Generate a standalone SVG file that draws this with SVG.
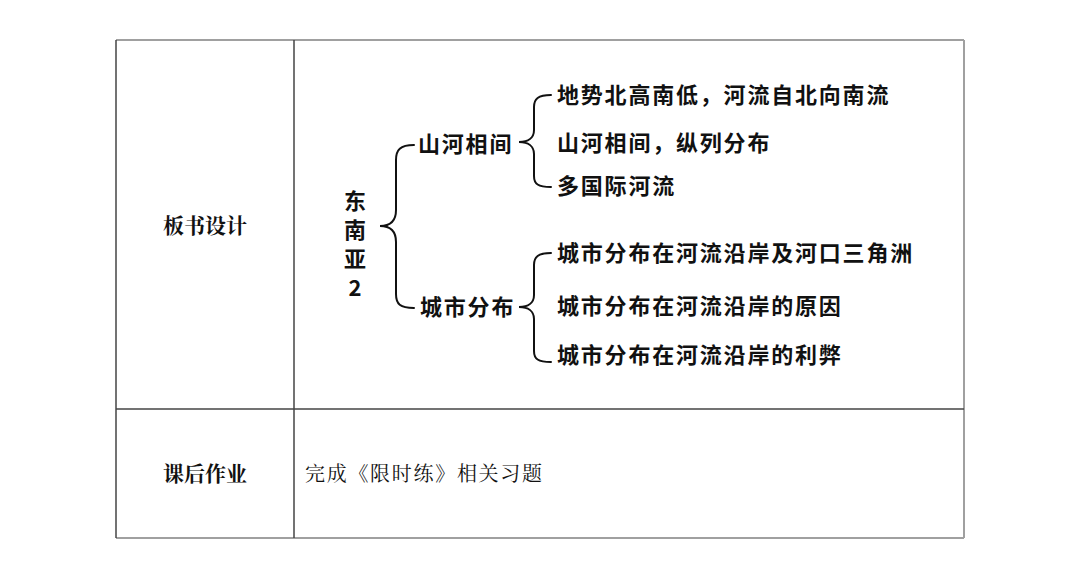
<svg xmlns="http://www.w3.org/2000/svg" width="1080" height="569" viewBox="0 0 1080 569">
<style>
.t{font-family:"Noto Sans CJK SC","Noto Sans",sans-serif;font-size:22px;font-weight:bold;fill:#111;letter-spacing:1.8px;dominant-baseline:central}
.v{font-family:"Noto Sans CJK SC","Noto Sans",sans-serif;font-size:22px;font-weight:bold;fill:#111;text-anchor:middle;dominant-baseline:central}
.s{font-family:"Noto Serif CJK SC","Noto Sans CJK SC",serif;font-size:20px;fill:#111;dominant-baseline:central}
.h{letter-spacing:1.7px}
.sb{font-weight:bold;text-anchor:middle;font-size:21px}
.br{fill:none;stroke:#111;stroke-width:2;stroke-linecap:round}
.g{stroke:#a0a0a0;stroke-width:2;fill:none}
.d{stroke:#444;stroke-width:1.5;fill:none}
</style>
<rect width="1080" height="569" fill="#fff"/>
<g id="table">
<line class="g" x1="116" y1="40" x2="964" y2="40"/>
<line class="g" x1="964" y1="40" x2="964" y2="538"/>
<line class="g" x1="116" y1="538" x2="964" y2="538"/>
<line class="d" x1="116" y1="40" x2="116" y2="538"/>
<line class="d" x1="294" y1="40" x2="294" y2="538"/>
<line class="d" x1="116" y1="409" x2="964" y2="409"/>
</g>
<g id="label-board"><text class="s sb" x="205" y="224">板书设计</text></g>
<g id="label-homework"><text class="s sb" x="205" y="472">课后作业</text></g>
<g id="homework"><text class="s h" x="305" y="472">完成《限时练》相关习题</text></g>
<g id="root">
<text class="v" x="355" y="199">东</text>
<text class="v" x="355" y="228">南</text>
<text class="v" x="355" y="257">亚</text>
<text class="v" x="355" y="286">2</text>
</g>
<g id="connectors">
<path class="br" d="M414,145 C400,145 396,150 396,160 L396,210 C396,221 390,226 380,226 C390,226 396,231 396,242 L396,294 C396,304 400,308 414,308"/>
<path class="br" d="M551,95 C538,95 534,99 534,107 L534,130 C534,138 528,142 519,142 C528,142 534,146 534,154 L534,176 C534,184 538,187 551,187"/>
<path class="br" d="M551,253 C538,253 534,257 534,265 L534,295 C534,303 528,307 519,307 C528,307 534,311 534,319 L534,351 C534,359 538,362 551,362"/>
</g>
<g id="n-shanhe"><text class="t" x="418" y="142">山河相间</text></g>
<g id="n-city"><text class="t" x="420" y="305">城市分布</text></g>
<g id="n1"><text class="t" x="557" y="93">地势北高南低，河流自北向南流</text></g>
<g id="n2"><text class="t" x="557" y="141">山河相间，纵列分布</text></g>
<g id="n3"><text class="t" x="557" y="184">多国际河流</text></g>
<g id="n4"><text class="t" x="557" y="251">城市分布在河流沿岸及河口三角洲</text></g>
<g id="n5"><text class="t" x="557" y="304">城市分布在河流沿岸的原因</text></g>
<g id="n6"><text class="t" x="557" y="353">城市分布在河流沿岸的利弊</text></g>
</svg>
